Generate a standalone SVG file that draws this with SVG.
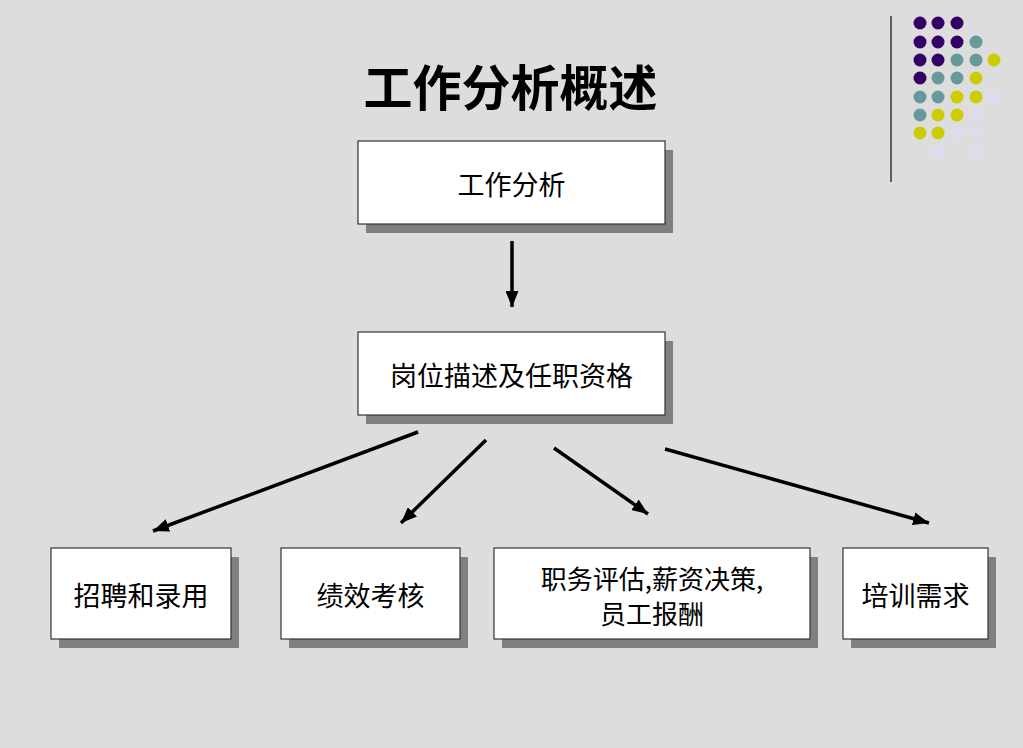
<svg xmlns="http://www.w3.org/2000/svg" width="1023" height="748" viewBox="0 0 1023 748">
<defs>
<style>
.shadow{fill:#808080;}
.box{fill:#ffffff;stroke:#333333;stroke-width:1.2;}
.lbl{font-family:"Noto Sans CJK SC","Liberation Serif",sans-serif;font-size:27px;fill:#000;text-anchor:middle;dominant-baseline:central;}
.lbl2{font-size:26px;}
.title{font-family:"Noto Sans CJK SC","Liberation Sans",sans-serif;font-size:49px;font-weight:bold;fill:#000;text-anchor:middle;dominant-baseline:central;}
.conn{stroke:#000;stroke-width:3.5;fill:none;marker-end:url(#ah);}
.p{fill:#330066;} .t{fill:#669999;} .y{fill:#cccc00;} .l{fill:#dcdcec;}
</style>
<marker id="ah" viewBox="0 0 16 13" refX="16" refY="6.5" markerWidth="16" markerHeight="13" markerUnits="userSpaceOnUse" orient="auto">
<path d="M0,0 L16,6.5 L0,13 z" fill="#000"/>
</marker>
</defs>
<rect width="1023" height="748" fill="#dddddd"/>
<g id="decor">
<line x1="891" y1="16" x2="891" y2="182" stroke="#333" stroke-width="1.5"/>
<g>
<circle class="p" cx="920" cy="23" r="6.5"/><circle class="p" cx="938" cy="23" r="6.5"/><circle class="p" cx="957" cy="23" r="6.5"/>
<circle class="p" cx="920" cy="42" r="6.5"/><circle class="p" cx="938" cy="42" r="6.5"/><circle class="p" cx="957" cy="42" r="6.5"/><circle class="t" cx="976" cy="42" r="6.5"/>
<circle class="p" cx="920" cy="60" r="6.5"/><circle class="p" cx="938" cy="60" r="6.5"/><circle class="t" cx="957" cy="60" r="6.5"/><circle class="t" cx="976" cy="60" r="6.5"/><circle class="y" cx="994" cy="60" r="6.5"/>
<circle class="p" cx="920" cy="78" r="6.5"/><circle class="t" cx="938" cy="78" r="6.5"/><circle class="t" cx="957" cy="78" r="6.5"/><circle class="y" cx="976" cy="78" r="6.5"/>
<circle class="t" cx="920" cy="97" r="6.5"/><circle class="t" cx="938" cy="97" r="6.5"/><circle class="y" cx="957" cy="97" r="6.5"/><circle class="y" cx="976" cy="97" r="6.5"/><circle class="l" cx="994" cy="97" r="6.5"/>
<circle class="t" cx="920" cy="115" r="6.5"/><circle class="y" cx="938" cy="115" r="6.5"/><circle class="y" cx="957" cy="115" r="6.5"/><circle class="l" cx="976" cy="115" r="6.5"/>
<circle class="y" cx="920" cy="133" r="6.5"/><circle class="y" cx="938" cy="133" r="6.5"/><circle class="l" cx="957" cy="133" r="6.5"/><circle class="l" cx="976" cy="133" r="6.5"/>
<circle class="l" cx="938" cy="152" r="6.5"/><circle class="l" cx="976" cy="152" r="6.5"/>
</g>
</g>
<text class="title" x="510.5" y="84">工作分析概述</text>
<g id="n1">
<rect class="shadow" x="366" y="150" width="307" height="83"/>
<rect class="box" x="358" y="141" width="307" height="83"/>
<text class="lbl" x="511.5" y="183">工作分析</text>
</g>
<g id="n2">
<rect class="shadow" x="366" y="341" width="307" height="83"/>
<rect class="box" x="358" y="332" width="307" height="83"/>
<text class="lbl" x="511.5" y="374">岗位描述及任职资格</text>
</g>
<g id="n3">
<rect class="shadow" x="59" y="557" width="180" height="91"/>
<rect class="box" x="51" y="548" width="180" height="91"/>
<text class="lbl" x="141" y="594">招聘和录用</text>
</g>
<g id="n4">
<rect class="shadow" x="289" y="557" width="179" height="91"/>
<rect class="box" x="281" y="548" width="179" height="91"/>
<text class="lbl" x="370.5" y="594">绩效考核</text>
</g>
<g id="n5">
<rect class="shadow" x="502" y="557" width="316" height="91"/>
<rect class="box" x="494" y="548" width="316" height="91"/>
<text class="lbl lbl2"><tspan x="652" y="577">职务评估,薪资决策,</tspan><tspan x="652" y="612">员工报酬</tspan></text>
</g>
<g id="n6">
<rect class="shadow" x="851" y="557" width="145" height="91"/>
<rect class="box" x="843" y="548" width="145" height="91"/>
<text class="lbl" x="915.5" y="594">培训需求</text>
</g>
<g id="connectors">
<line class="conn" x1="512" y1="241" x2="512" y2="307"/>
<line class="conn" x1="418" y1="432" x2="153" y2="531"/>
<line class="conn" x1="486" y1="440" x2="401" y2="523"/>
<line class="conn" x1="554" y1="448" x2="648" y2="514"/>
<line class="conn" x1="665" y1="449" x2="929" y2="523"/>
</g>
</svg>
